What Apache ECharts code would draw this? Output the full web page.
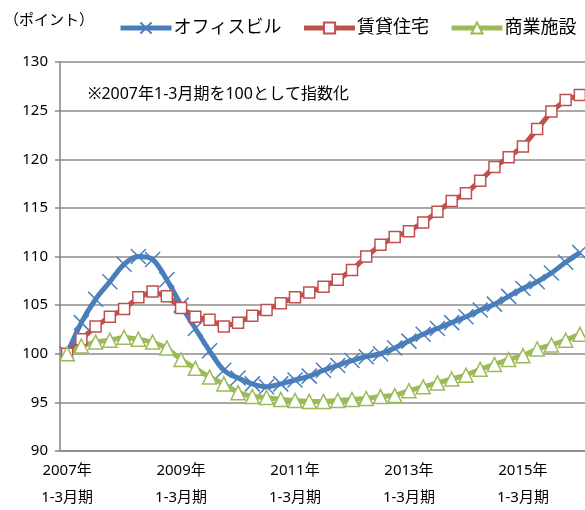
<!DOCTYPE html>
<html>
<head>
<meta charset="utf-8">
<script src="https://cdn.jsdelivr.net/npm/echarts@6/dist/echarts.min.js"></script>
<style>
  html, body { margin: 0; padding: 0; background: #fff; }
  #chart { width: 585px; height: 510px; }
</style>
</head>
<body>
<div id="chart"></div>
<script>
// 四半期 (2007年1-3月期 〜 2016年1-3月期)
const years = [2007, 2008, 2009, 2010, 2011, 2012, 2013, 2014, 2015, 2016]
const quarterNames = ['1-3月期', '4-6月期', '7-9月期', '10-12月期']
const pointCount = 37

const seriesNames = ['オフィスビル', '賃貸住宅', '商業施設']
const office = [100, 103.2, 105.6, 107.4, 109.2, 110.0, 109.7, 107.6, 105.0, 102.6,
  100.3, 98.3, 97.5, 96.9, 96.6, 96.9, 97.3, 97.7, 98.3, 98.8,
  99.3, 99.7, 100.0, 100.6, 101.3, 102.0, 102.6, 103.2, 103.8, 104.5,
  105.1, 105.9, 106.7, 107.4, 108.3, 109.4, 110.4]
const rental = [100, 101.5, 102.8, 103.8, 104.6, 105.8, 106.4, 105.9, 104.7, 103.8,
  103.5, 102.8, 103.2, 103.9, 104.5, 105.2, 105.8, 106.3, 106.9, 107.6,
  108.6, 110.0, 111.2, 112.0, 112.6, 113.5, 114.6, 115.7, 116.5, 117.8,
  119.2, 120.2, 121.3, 123.1, 124.9, 126.1, 126.6]
const commercial = [100, 100.8, 101.2, 101.4, 101.7, 101.5, 101.2, 100.6, 99.4, 98.5,
  97.6, 96.9, 96.0, 95.6, 95.5, 95.3, 95.2, 95.1, 95.1, 95.2,
  95.3, 95.4, 95.6, 95.7, 96.2, 96.6, 97.0, 97.4, 97.8, 98.4,
  98.9, 99.4, 99.8, 100.5, 100.9, 101.4, 102.0]

const yMin = 90
const yMax = 130
const yStep = 5

let categories = []
years.forEach((y) => {
  quarterNames.forEach((q) => {
    if (categories.length < pointCount) categories.push(y + '年\n' + q)
  })
})

const font = '"Noto Sans", "Noto Sans CJK JP", sans-serif'
const blue = '#4a7ebb'
const red = '#c0504d'
const green = '#9bbb59'

var myChart = echarts.init(document.getElementById('chart'))
myChart.setOption({
  animation: false,
  textStyle: { fontFamily: font },
  grid: { left: 60, top: 62, width: 527, height: 389, outerBoundsMode: 'none' },
  legend: {
    left: 118,
    top: 19,
    width: 480,
    padding: 0,
    itemWidth: 51,
    itemHeight: 14,
    itemGap: 20,
    lineStyle: { width: 5 },
    textStyle: { fontSize: 18, color: '#000', fontFamily: font, padding: [0, 0, 0, -3] },
    data: seriesNames,
  },
  graphic: [
    {
      type: 'text',
      left: 4,
      top: 13,
      style: { text: '（ポイント）', fill: '#000', font: '15px ' + font },
    },
    {
      type: 'text',
      left: 88,
      top: 86,
      style: { text: '※2007年1-3月期を100として指数化', fill: '#000', font: '16px ' + font },
    },
  ],
  xAxis: {
    type: 'category',
    data: categories,
    boundaryGap: true,
    axisLine: { lineStyle: { color: '#868686', width: 1.5 } },
    axisTick: { interval: 7, length: 5, lineStyle: { color: '#868686', width: 1.5 } },
    axisLabel: {
      interval: 7,
      fontSize: 15,
      lineHeight: 27,
      color: '#000',
      margin: 6,
    },
    splitLine: { show: false },
  },
  yAxis: {
    type: 'value',
    min: yMin,
    max: yMax,
    interval: yStep,
    axisLine: { show: true, lineStyle: { color: '#868686', width: 1.5 } },
    axisTick: { show: true, length: 5, lineStyle: { color: '#868686', width: 1.5 } },
    axisLabel: { fontSize: 15, color: '#000', margin: 12 },
    splitLine: { lineStyle: { color: '#8c8c8c', width: 1.5 } },
  },
  series: [
    {
      name: seriesNames[0],
      type: 'line',
      data: office,
      smooth: 0.35,
      showAllSymbol: true,
      symbol: 'path://M0,0L10,10M10,0L0,10',
      symbolSize: 15,
      lineStyle: { color: blue, width: 5 },
      itemStyle: { color: blue, borderColor: blue, borderWidth: 1.5 },
    },
    {
      name: seriesNames[1],
      type: 'line',
      data: rental,
      showAllSymbol: true,
      symbol: 'rect',
      symbolSize: 11,
      lineStyle: { color: red, width: 5 },
      itemStyle: { color: '#fff', borderColor: red, borderWidth: 1.5 },
    },
    {
      name: seriesNames[2],
      type: 'line',
      data: commercial,
      showAllSymbol: true,
      symbol: 'triangle',
      symbolSize: 14,
      lineStyle: { color: green, width: 5 },
      itemStyle: { color: '#fff', borderColor: green, borderWidth: 1.5 },
    },
  ],
})
</script>
</body>
</html>
